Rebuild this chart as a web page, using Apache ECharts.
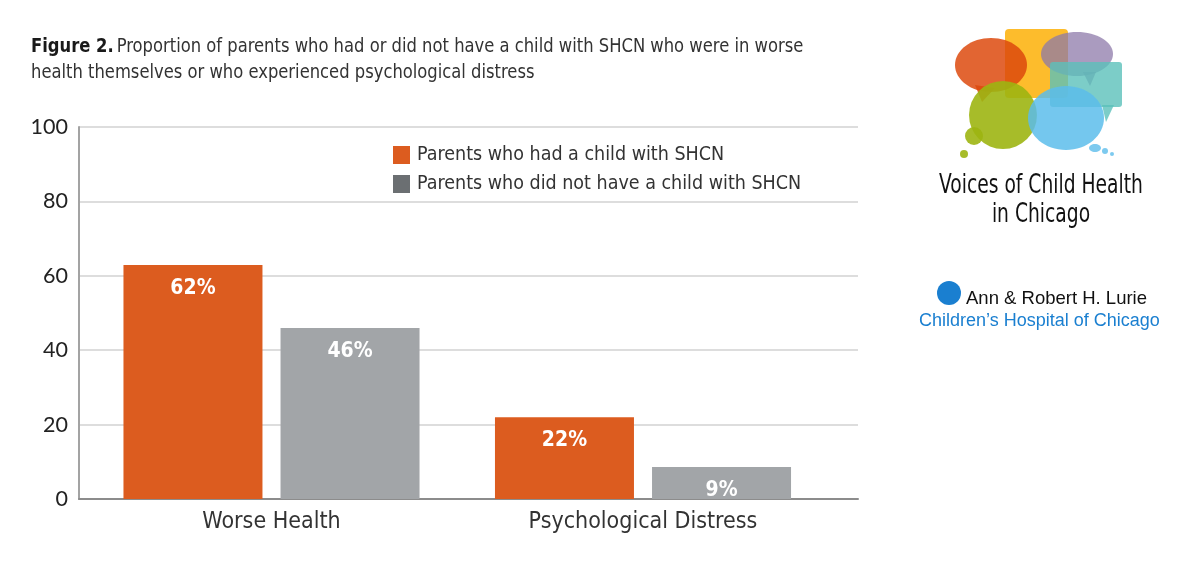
<!DOCTYPE html>
<html><head><meta charset="utf-8">
<script src="https://cdn.jsdelivr.net/npm/echarts@6/dist/echarts.min.js"></script>
<style>html,body{margin:0;padding:0;background:#fff}#c{width:1200px;height:584px}</style>
</head><body><div id="c"></div>
<script>
const categories = ['Worse Health', 'Psychological Distress'];
const seriesNames = ['Parents who had a child with SHCN', 'Parents who did not have a child with SHCN'];
const withSHCN = [62.9, 22];
const withoutSHCN = [46, 8.6];
const withLabels = ['62%', '22%'];
const withoutLabels = ['46%', '9%'];
const yTicks = [0, 20, 40, 60, 80, 100];

const F = '"DejaVu Sans Condensed","Liberation Sans Narrow","Roboto",sans-serif';
const FY = 'Lato,"Open Sans",sans-serif';
const ORANGE = '#DC5C1F', GRAY = '#A2A5A8', LEGGRAY = '#6B6F72';

const chart = echarts.init(document.getElementById('c'));
const labelCfg = (arr) => ({
  show: true, position: 'insideTop', distance: 13,
  formatter: p => arr[p.dataIndex],
  color: '#fff', fontFamily: F, fontWeight: 'bold', fontSize: 21
});
chart.setOption({
  animation: false,
  legend: {
    left: 388, top: 140, orient: 'vertical', itemWidth: 17, itemHeight: 18, itemGap: 9,
    icon: 'rect',
    textStyle: { fontFamily: F, fontSize: 19.5, color: '#333', padding: [0, 0, 0, 2] },
    data: [
      { name: seriesNames[0], itemStyle: { color: ORANGE } },
      { name: seriesNames[1], itemStyle: { color: LEGGRAY } }
    ]
  },
  grid: [
    { left: 79, right: 342, top: 127, bottom: 85 },
    { left: 85.75, width: 743, top: 127, bottom: 85 }
  ],
  xAxis: [
    { gridIndex: 0, type: 'value', min: 0, max: 1, axisLabel: { show: false }, axisTick: { show: false },
      splitLine: { show: false }, axisLine: { show: true, lineStyle: { color: '#8c8c8c', width: 2 } } },
    { gridIndex: 1, type: 'category', data: categories, axisLine: { show: false }, axisTick: { show: false },
      axisLabel: { fontFamily: F, fontSize: 23, color: '#333', margin: 12 } }
  ],
  yAxis: [
    { gridIndex: 0, type: 'value', min: 0, max: 100, interval: 20,
      axisLine: { show: true, lineStyle: { color: '#a3a3a3', width: 2 } }, axisTick: { show: false },
      splitLine: { lineStyle: { color: '#d2d2d2', width: 1.5 } },
      axisLabel: { fontFamily: FY, fontSize: 21.5, color: '#222', margin: 11, padding: [8, 0, 0, 0],
        formatter: v => yTicks.includes(v) ? String(v) : '' } },
    { gridIndex: 1, type: 'value', min: 0, max: 100, show: false }
  ],
  series: [
    { name: seriesNames[0], type: 'bar', xAxisIndex: 1, yAxisIndex: 1, data: withSHCN,
      barWidth: 139, barGap: '13%', itemStyle: { color: ORANGE }, label: labelCfg(withLabels) },
    { name: seriesNames[1], type: 'bar', xAxisIndex: 1, yAxisIndex: 1, data: withoutSHCN,
      barWidth: 139, barGap: '13%', itemStyle: { color: GRAY }, label: labelCfg(withoutLabels) }
  ],
  graphic: [
    // Title
    { type: 'text', x: 31, y: 34, scaleX: 0.91, silent: true,
      style: {
        text: '{b|Figure 2.} {n|Proportion of parents who had or did not have a child with SHCN who were in worse}\n{n|health themselves or who experienced psychological distress}',
        textVerticalAlign: 'top',
        rich: {
          b: { fontFamily: F, fontWeight: 'bold', fontSize: 20, fill: '#1a1a1a', lineHeight: 26 },
          n: { fontFamily: F, fontWeight: 'normal', fontSize: 20, fill: '#333', lineHeight: 26 }
        }
      } },
    // Voices logo bubbles
    { type: 'rect', shape: { x: 1005, y: 29, width: 63, height: 69, r: 4 }, style: { fill: '#FDB515', opacity: 0.9 } },
    { type: 'polygon', shape: { points: [[975, 85], [982, 102], [995, 88]] }, style: { fill: '#DD4A0E', opacity: 0.85 } },
    { type: 'ellipse', shape: { cx: 991, cy: 65, rx: 36, ry: 27 }, style: { fill: '#DD4A0E', opacity: 0.85 } },
    { type: 'ellipse', shape: { cx: 1077, cy: 54, rx: 36, ry: 22 }, style: { fill: '#8E79A9', opacity: 0.75 } },
    { type: 'polygon', shape: { points: [[1083, 72], [1090, 86], [1096, 72]] }, style: { fill: '#8E79A9', opacity: 0.75 } },
    { type: 'rect', shape: { x: 1050, y: 62, width: 72, height: 45, r: 3 }, style: { fill: '#5BC0BA', opacity: 0.8 } },
    { type: 'polygon', shape: { points: [[1102, 105], [1106, 122], [1114, 105]] }, style: { fill: '#5BC0BA', opacity: 0.8 } },
    { type: 'circle', shape: { cx: 1003, cy: 115, r: 34 }, style: { fill: '#9DB512', opacity: 0.9 } },
    { type: 'circle', shape: { cx: 974, cy: 136, r: 9 }, style: { fill: '#9DB512', opacity: 0.9 } },
    { type: 'circle', shape: { cx: 964, cy: 154, r: 4 }, style: { fill: '#9DB512', opacity: 0.9 } },
    { type: 'ellipse', shape: { cx: 1066, cy: 118, rx: 38, ry: 32 }, style: { fill: '#5CBDEB', opacity: 0.85 } },
    { type: 'ellipse', shape: { cx: 1095, cy: 148, rx: 6, ry: 4 }, style: { fill: '#5CBDEB', opacity: 0.8 } },
    { type: 'circle', shape: { cx: 1105, cy: 151, r: 3 }, style: { fill: '#5CBDEB', opacity: 0.8 } },
    { type: 'circle', shape: { cx: 1112, cy: 154, r: 2 }, style: { fill: '#5CBDEB', opacity: 0.8 } },
    { type: 'text', x: 1041, y: 186, scaleX: 0.77, silent: true,
      style: { x: 0, y: 0, text: 'Voices of Child Health', textAlign: 'center', textVerticalAlign: 'middle',
        font: '27px ' + F, fill: '#111' } },
    { type: 'text', x: 1041, y: 215, scaleX: 0.77, silent: true,
      style: { x: 0, y: 0, text: 'in Chicago', textAlign: 'center', textVerticalAlign: 'middle',
        font: '27px ' + F, fill: '#111' } },
    // Lurie logo
    { type: 'circle', shape: { cx: 949, cy: 293, r: 12 }, style: { fill: '#1A7FD0' } },
    { type: 'text', style: { x: 966, y: 299, text: 'Ann & Robert H. Lurie', textAlign: 'left', textVerticalAlign: 'middle',
        font: '18.5px "Liberation Sans", Arial, sans-serif', fill: '#111' } },
    { type: 'text', style: { x: 919, y: 321, text: 'Children\u2019s Hospital of Chicago', textAlign: 'left', textVerticalAlign: 'middle',
        font: '18px "Liberation Sans", Arial, sans-serif', fill: '#1A7FD0' } }
  ]
});
</script></body></html>
